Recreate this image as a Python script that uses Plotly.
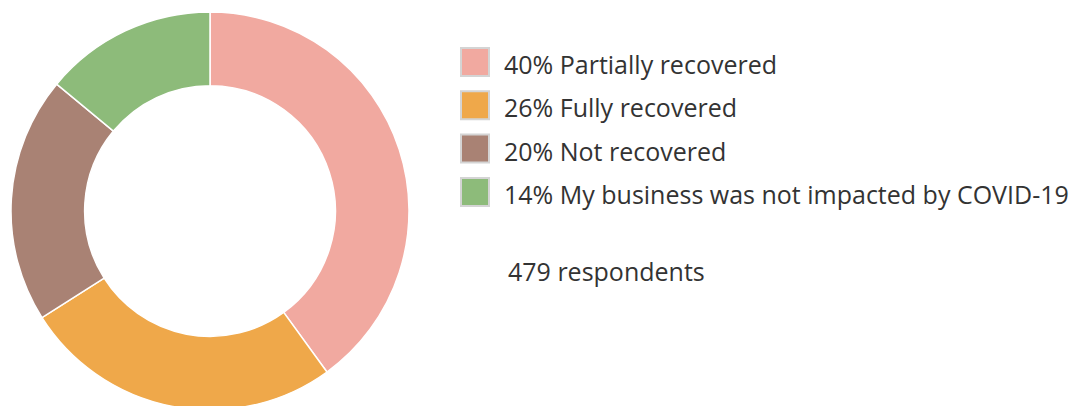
import plotly.graph_objects as go

# ---- data ----
labels = ["Partially recovered", "Fully recovered", "Not recovered",
          "My business was not impacted by COVID-19"]
percents = [40, 26, 20, 14]
respondents = 479

# ---- style ----
colors = ["#F1A9A0", "#EFA84A", "#A98274", "#8DBB7A"]
W, H = 1071, 414   # slightly taller than the window so the ring's bottom is cropped
font_family = "Open Sans"
font_size = 25
text_color = "#333333"

# pie geometry (pixel coords, top-left origin)
cx, cy0, R = 210, 211, 199

fig = go.Figure()
fig.add_trace(go.Pie(
    labels=labels,
    values=percents,
    sort=False,
    direction="clockwise",
    rotation=0,
    hole=0.63,
    marker=dict(colors=colors, line=dict(color="white", width=1.5)),
    textinfo="none",
    showlegend=False,
    domain=dict(x=[(cx - R) / W, (cx + R) / W],
                y=[(H - (cy0 + R)) / H, (H - (cy0 - R)) / H]),
))

# custom legend (large squares + text)
sq_left, sq_size = 461, 28
text_left = 502
row_top = 62
row_step = 43.3

shapes = []
annotations = []
for i, (lab, pct, col) in enumerate(zip(labels, percents, colors)):
    cy = row_top + i * row_step
    shapes.append(dict(
        type="rect", xref="paper", yref="paper",
        x0=sq_left / W, x1=(sq_left + sq_size) / W,
        y0=1 - (cy + sq_size / 2) / H, y1=1 - (cy - sq_size / 2) / H,
        fillcolor=col, line=dict(color="#d4d4d4", width=2),
    ))
    annotations.append(dict(
        xref="paper", yref="paper", x=text_left / W, y=1 - (cy + 2) / H,
        xanchor="left", yanchor="middle", showarrow=False,
        text=f"{pct}% {lab}",
        font=dict(family=font_family, size=font_size, color=text_color),
    ))

annotations.append(dict(
    xref="paper", yref="paper", x=506 / W, y=1 - 271 / H,
    xanchor="left", yanchor="middle", showarrow=False,
    text=f"{respondents} respondents",
    font=dict(family=font_family, size=font_size, color=text_color),
))

fig.update_layout(
    width=W, height=H,
    margin=dict(l=0, r=0, t=0, b=0),
    paper_bgcolor="white",
    plot_bgcolor="white",
    shapes=shapes,
    annotations=annotations,
)

fig.write_html(
    "out.html",
    config={"displayModeBar": False},
    post_script="document.body.style.margin='0';document.body.style.overflow='hidden';",
)
